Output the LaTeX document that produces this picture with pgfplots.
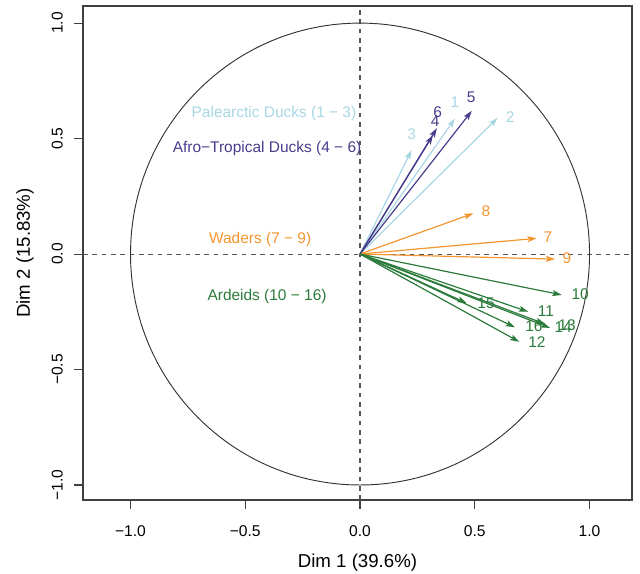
\documentclass[border=0pt]{standalone}
\usepackage{fontspec}
\setmainfont{Liberation Sans}
\usepackage{pgfplots}
\usepackage{pgfplotstable}
\pgfplotsset{compat=1.18}
\usetikzlibrary{arrows.meta,calc}

\definecolor{palecol}{HTML}{A9D6E5}
\definecolor{afrocol}{HTML}{483D8B}
\definecolor{wadercol}{HTML}{F39530}
\definecolor{ardcol}{HTML}{2B7B3B}
\definecolor{dashcol}{HTML}{555555}

% arrow tips (x,y start at origin, u,v = coordinates on Dim 1 / Dim 2)
\pgfplotstableread{
x y u v
0 0 0.414 0.587
0 0 0.600 0.590
0 0 0.225 0.450
}\palearctic
\pgfplotstableread{
x y u v
0 0 0.318 0.515
0 0 0.487 0.620
0 0 0.335 0.545
}\afro
\pgfplotstableread{
x y u v
0 0 0.770 0.068
0 0 0.494 0.176
0 0 0.850 -0.022
}\waders
\pgfplotstableread{
x y u v
0 0 0.879 -0.177
0 0 0.733 -0.250
0 0 0.694 -0.380
0 0 0.806 -0.303
0 0 0.828 -0.320
0 0 0.465 -0.213
0 0 0.675 -0.317
}\ardeids

% label positions
\pgfplotstableread{
x y lab
0.414 0.658 1
0.654 0.593 2
0.225 0.518 3
}\palearcticlab
\pgfplotstableread{
x y lab
0.327 0.575 4
0.484 0.680 5
0.338 0.616 6
}\afrolab
\pgfplotstableread{
x y lab
0.819 0.074 7
0.549 0.186 8
0.902 -0.017 9
}\waderslab
\pgfplotstableread{
x y lab
0.959 -0.173 10
0.810 -0.247 11
0.771 -0.381 12
0.902 -0.307 13
0.885 -0.316 14
0.549 -0.212 15
0.758 -0.312 16
}\ardeidslab

\newcommand{\ticksize}{\fontsize{11.7}{13}\selectfont}
\newcommand{\labsize}{\fontsize{14}{16}\selectfont}
\newcommand{\txtsize}{\fontsize{11.6}{13}\selectfont}

\begin{document}
\begin{tikzpicture}
\begin{axis}[
  name=ax,
  scale only axis,
  width=411.75pt, height=370.5pt,
  xmin=-1.207, xmax=1.185,
  ymin=-1.065, ymax=1.074,
  axis line style={line width=0.8pt, draw=black!75},
  xtick={-1,-0.5,0,0.5,1},
  ytick={-1,-0.5,0,0.5,1},
  xticklabels={−1.0,−0.5,0.0,0.5,1.0},
  yticklabels={−1.0,−0.5,0.0,0.5,1.0},
  xtick pos=bottom, ytick pos=left,
  tick align=outside,
  major tick length=6.75pt,
  tick style={line width=0.8pt, black!75},
  xticklabel style={font=\ticksize, anchor=center},
  yticklabel style={font=\ticksize, rotate=90, anchor=center},
  xticklabel shift=16.5pt,
  yticklabel shift=12.5pt,
  xlabel={Dim 1 (39.6\%)},
  ylabel={Dim 2 (15.83\%)},
  xlabel style={font=\labsize, at={(axis description cs:0.5,-0.126)}, anchor=center},
  ylabel style={font=\labsize, at={(axis description cs:-0.1056,0.5)}, anchor=center, rotate=0},
  clip=false,
]
% reference lines and unit circle
\draw[dashcol, line width=0.8pt, dash pattern=on 3.5pt off 3.5pt] (axis cs:-1.207,0) -- (axis cs:1.185,0);
\draw[dashcol, line width=0.8pt, dash pattern=on 3.5pt off 3.5pt] (axis cs:0,-1.065) -- (axis cs:0,1.074);
\draw[black!80, line width=0.7pt] (axis cs:0,0) ellipse [x radius=1, y radius=1];

% arrows
\pgfplotsset{arr/.style={line width=0.9pt, -{Stealth[length=7pt,width=4.5pt,inset=1.5pt]}}}
\addplot[palecol, arr, quiver={u=\thisrow{u}, v=\thisrow{v}}] table {\palearctic};
\addplot[afrocol, arr, quiver={u=\thisrow{u}, v=\thisrow{v}}] table {\afro};
\addplot[wadercol, arr, quiver={u=\thisrow{u}, v=\thisrow{v}}] table {\waders};
\addplot[ardcol, arr, quiver={u=\thisrow{u}, v=\thisrow{v}}] table {\ardeids};

% arrow labels
\addplot[draw=none, mark=none, nodes near coords, point meta=explicit symbolic,
  nodes near coords style={anchor=center, inner sep=0pt, font=\txtsize, text=palecol}]
  table[meta=lab] {\palearcticlab};
\addplot[draw=none, mark=none, nodes near coords, point meta=explicit symbolic,
  nodes near coords style={anchor=center, inner sep=0pt, font=\txtsize, text=afrocol}]
  table[meta=lab] {\afrolab};
\addplot[draw=none, mark=none, nodes near coords, point meta=explicit symbolic,
  nodes near coords style={anchor=center, inner sep=0pt, font=\txtsize, text=wadercol}]
  table[meta=lab] {\waderslab};
\addplot[draw=none, mark=none, nodes near coords, point meta=explicit symbolic,
  nodes near coords style={anchor=center, inner sep=0pt, font=\txtsize, text=ardcol}]
  table[meta=lab] {\ardeidslab};

% group captions
\node[font=\txtsize, text=palecol] at (axis cs:-0.375,0.610) {Palearctic Ducks (1 − 3)};
\node[font=\txtsize, text=afrocol] at (axis cs:-0.405,0.459) {Afro−Tropical Ducks (4 − 6)};
\node[font=\txtsize, text=wadercol] at (axis cs:-0.435,0.065) {Waders (7 − 9)};
\node[font=\txtsize, text=ardcol] at (axis cs:-0.405,-0.182) {Ardeids (10 − 16)};
\end{axis}
\pgfresetboundingbox
\path ($(ax.south west)+(-62.25pt,-55.5pt)$) rectangle ($(ax.north east)+(6pt,4.5pt)$);
\end{tikzpicture}
\end{document}
